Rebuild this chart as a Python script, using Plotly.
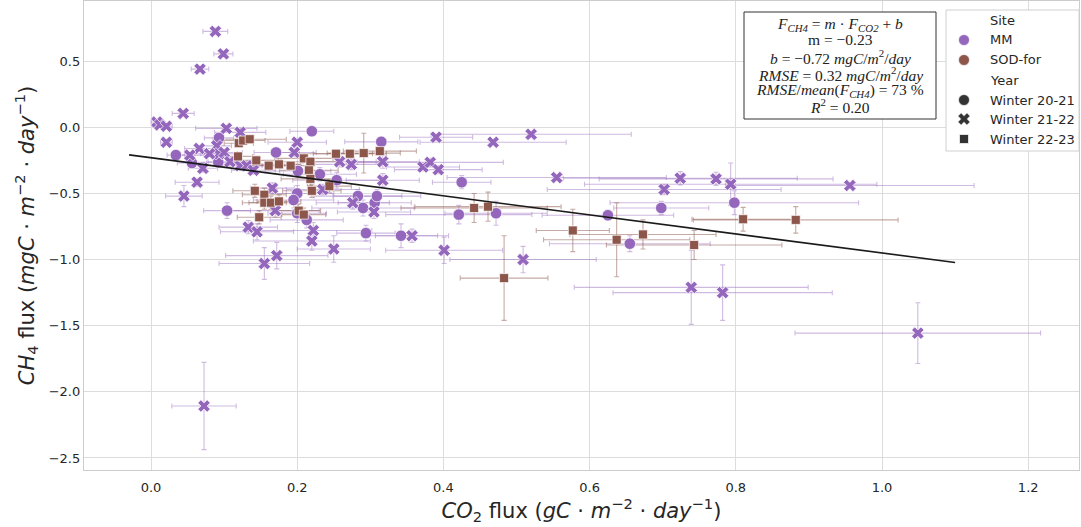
import plotly.graph_objects as go

# ---- MM site, winter 20-21 (circles) ----
mm20_x = [0.034, 0.220, 0.315, 0.171, 0.093, 0.092, 0.056, 0.104, 0.201, 0.231,
          0.254, 0.200, 0.195, 0.200, 0.213, 0.283, 0.290, 0.306, 0.309, 0.294,
          0.342, 0.425, 0.421, 0.472, 0.625, 0.655, 0.698, 0.798]
mm20_y = [-0.21, -0.03, -0.11, -0.19, -0.08, -0.265, -0.27, -0.63, -0.33, -0.355,
          -0.40, -0.50, -0.55, -0.65, -0.70, -0.52, -0.61, -0.57, -0.52, -0.80,
          -0.82, -0.415, -0.66, -0.65, -0.665, -0.88, -0.61, -0.57]
mm20_xerr = [0.012, 0.030, 0.050, 0.030, 0.020, 0.030, 0.020, 0.032, 0.045, 0.050,
             0.060, 0.050, 0.055, 0.040, 0.050, 0.060, 0.070, 0.050, 0.060, 0.040,
             0.050, 0.040, 0.100, 0.070, 0.090, 0.110, 0.065, 0.170]
mm20_yerr = [0.02, 0.02, 0.03, 0.02, 0.03, 0.03, 0.03, 0.06, 0.05, 0.05,
             0.06, 0.06, 0.06, 0.07, 0.06, 0.05, 0.06, 0.05, 0.05, 0.06,
             0.09, 0.05, 0.07, 0.09, 0.04, 0.06, 0.05, 0.09]

# ---- MM site, winter 21-22 (crosses) ----
mm21_x = [0.088, 0.099, 0.067, 0.044, 0.008, 0.012, 0.021, 0.021, 0.103, 0.122,
          0.200, 0.196, 0.066, 0.090, 0.093, 0.053, 0.080, 0.100, 0.108, 0.071,
          0.063, 0.045, 0.122, 0.131, 0.140, 0.166, 0.170, 0.133, 0.145, 0.155,
          0.172, 0.222, 0.220, 0.250, 0.235, 0.258, 0.274, 0.317, 0.317, 0.357,
          0.390, 0.372, 0.382, 0.393, 0.520, 0.468, 0.555, 0.702, 0.724, 0.773,
          0.793, 0.956, 0.401, 0.509, 0.739, 0.782, 1.049, 0.0725, 0.276, 0.305]
mm21_y = [0.725, 0.555, 0.440, 0.105, 0.040, 0.018, 0.008, -0.113, -0.008, -0.038,
          -0.113, -0.190, -0.160, -0.140, -0.200, -0.210, -0.200, -0.190, -0.260, -0.310,
          -0.415, -0.520, -0.290, -0.290, -0.325, -0.460, -0.630, -0.755, -0.790, -1.030,
          -0.970, -0.780, -0.860, -0.920, -0.470, -0.260, -0.280, -0.260, -0.400, -0.820,
          -0.075, -0.300, -0.265, -0.320, -0.053, -0.113, -0.380, -0.470, -0.385, -0.390,
          -0.430, -0.440, -0.930, -1.000, -1.210, -1.250, -1.556, -2.107, -0.570, -0.640]
mm21_xerr = [0.017, 0.013, 0.012, 0.015, 0.008, 0.008, 0.008, 0.008, 0.042, 0.035,
             0.040, 0.030, 0.020, 0.020, 0.025, 0.020, 0.020, 0.025, 0.030, 0.020,
             0.030, 0.025, 0.030, 0.030, 0.030, 0.030, 0.060, 0.040, 0.050, 0.062,
             0.070, 0.080, 0.080, 0.050, 0.050, 0.050, 0.050, 0.050, 0.050, 0.050,
             0.050, 0.050, 0.100, 0.060, 0.137, 0.100, 0.150, 0.160, 0.160, 0.160,
             0.200, 0.170, 0.080, 0.100, 0.160, 0.150, 0.168, 0.044, 0.050, 0.050]
mm21_yerr = [0.025, 0.010, 0.020, 0.010, 0.010, 0.010, 0.010, 0.015, 0.020, 0.030,
             0.030, 0.030, 0.020, 0.020, 0.020, 0.020, 0.020, 0.020, 0.030, 0.030,
             0.030, 0.080, 0.030, 0.030, 0.030, 0.040, 0.050, 0.050, 0.060, 0.120,
             0.100, 0.060, 0.070, 0.100, 0.040, 0.040, 0.040, 0.050, 0.050, 0.050,
             0.020, 0.030, 0.030, 0.030, 0.020, 0.020, 0.020, 0.040, 0.050, 0.050,
             0.160, 0.020, 0.100, 0.100, 0.280, 0.210, 0.230, 0.330, 0.050, 0.050]

# ---- SOD-for site, winter 22-23 (squares) ----
sod22_x = [0.120, 0.126, 0.135, 0.119, 0.144, 0.161, 0.175, 0.191, 0.209, 0.218,
           0.253, 0.272, 0.291, 0.313, 0.216, 0.218, 0.220, 0.244, 0.142, 0.155,
           0.155, 0.164, 0.175, 0.148, 0.202, 0.209, 0.442, 0.461, 0.577, 0.637,
           0.673, 0.743, 0.810, 0.882, 0.483]
sod22_y = [-0.120, -0.100, -0.090, -0.220, -0.250, -0.290, -0.280, -0.290, -0.235, -0.260,
           -0.200, -0.200, -0.195, -0.180, -0.325, -0.390, -0.480, -0.445, -0.480, -0.510,
           -0.570, -0.570, -0.560, -0.680, -0.630, -0.660, -0.610, -0.600, -0.780, -0.850,
           -0.810, -0.890, -0.695, -0.700, -1.140]
sod22_xerr = [0.020, 0.030, 0.050, 0.020, 0.030, 0.030, 0.030, 0.030, 0.040, 0.040,
              0.050, 0.050, 0.050, 0.050, 0.040, 0.040, 0.040, 0.030, 0.030, 0.030,
              0.030, 0.030, 0.030, 0.030, 0.030, 0.030, 0.100, 0.100, 0.050, 0.100,
              0.100, 0.120, 0.070, 0.140, 0.060]
sod22_yerr = [0.02, 0.02, 0.02, 0.03, 0.03, 0.03, 0.03, 0.03, 0.03, 0.03,
              0.03, 0.03, 0.15, 0.08, 0.04, 0.05, 0.05, 0.05, 0.05, 0.05,
              0.05, 0.05, 0.05, 0.05, 0.05, 0.05, 0.11, 0.11, 0.16, 0.28,
              0.11, 0.11, 0.09, 0.10, 0.32]

# ---- linear fit and statistics ----
fit_coef = [-0.72, -0.23]          # np.polyfit order: [slope, intercept]
fit_x = [-0.03, 1.10]
rmse = 0.32
rmse_pct = 73
r2 = 0.20

site_names = ["MM", "SOD-for"]
year_names = ["Winter 20-21", "Winter 21-22", "Winter 22-23"]

PURPLE = "#9467bd"
BROWN = "#8c564b"
PURPLE_ERR = "rgba(148,103,189,0.45)"
BROWN_ERR = "rgba(140,86,75,0.5)"
DARK = "#333333"
TEXT = "#262626"

W, H = 1081, 527
ML, MR, MT, MB = 84, 2, 1, 57
PW, PH = W - ML - MR, H - MT - MB


def px(xp):
    return (xp - ML) / PW


def py(yp):
    return (H - MB - yp) / PH


fig = go.Figure()

groups = [
    (mm20_x, mm20_y, mm20_xerr, mm20_yerr, PURPLE, PURPLE_ERR, "circle", 11.5),
    (mm21_x, mm21_y, mm21_xerr, mm21_yerr, PURPLE, PURPLE_ERR, "x", 11),
    (sod22_x, sod22_y, sod22_xerr, sod22_yerr, BROWN, BROWN_ERR, "square", 9),
]

# error bars first, so every marker sits on top of them
for gx, gy, ex, ey, col, ecol, sym, sz in groups:
    fig.add_trace(go.Scatter(
        x=gx, y=gy, mode="markers",
        marker=dict(size=1, opacity=0),
        error_x=dict(type="data", array=ex, color=ecol, thickness=1.1, width=2.5),
        error_y=dict(type="data", array=ey, color=ecol, thickness=1.1, width=2.5),
        showlegend=False, hoverinfo="skip",
    ))

for gx, gy, ex, ey, col, ecol, sym, sz in groups:
    fig.add_trace(go.Scatter(
        x=gx, y=gy, mode="markers",
        marker=dict(symbol=sym, size=sz, color=col,
                    line=dict(color="white", width=0.7)),
        showlegend=False,
    ))

# regression line
fit_y = [fit_coef[0] * v + fit_coef[1] for v in fit_x]
fig.add_trace(go.Scatter(
    x=fit_x, y=fit_y, mode="lines",
    line=dict(color="#1a1a1a", width=1.6), showlegend=False,
))

shapes = []
annotations = []

# statistics box
shapes.append(dict(type="rect", xref="paper", yref="paper",
                   x0=px(744), x1=px(936), y0=py(119), y1=py(12),
                   line=dict(color="#333333", width=1), fillcolor="white",
                   layer="above"))
box_lines = [
    "<i>F</i><sub><i>CH4</i></sub> = <i>m</i> · <i>F</i><sub><i>CO2</i></sub> + <i>b</i>",
    f"m = {fit_coef[1]:.2f}".replace("-", "\u2212"),
    f"<i>b</i> = {fit_coef[0]:.2f}".replace("-", "\u2212")
    + " <i>mgC</i>/<i>m</i><sup>2</sup>/<i>day</i>",
    f"<i>RMSE</i> = {rmse:.2f} <i>mgC</i>/<i>m</i><sup>2</sup>/<i>day</i>",
    f"<i>RMSE</i>/<i>mean</i>(<i>F</i><sub><i>CH4</i></sub>) = {rmse_pct} %",
    f"<i>R</i><sup>2</sup> = {r2:.2f}",
]
box_y = [24, 40, 57, 74, 91, 106]
for t, yy in zip(box_lines, box_y):
    annotations.append(dict(
        text=t, xref="paper", yref="paper", x=px(840), y=py(yy),
        xanchor="center", yanchor="middle", showarrow=False,
        font=dict(family="Liberation Serif", size=15.5, color="#222222"),
    ))

# legend frame
shapes.append(dict(type="rect", xref="paper", yref="paper",
                   x0=px(946), x1=px(1079), y0=py(151), y1=py(10),
                   line=dict(color="#d0d0d0", width=1), fillcolor="white",
                   layer="above"))

leg_rows = [
    ("Site", None, None),
    (site_names[0], "circle", PURPLE),
    (site_names[1], "circle", BROWN),
    ("Year", None, None),
    (year_names[0], "circle", DARK),
    (year_names[1], "x", DARK),
    (year_names[2], "square", DARK),
]
leg_y = [21, 40, 60, 80, 100, 119, 139]
mx = 964
for (label, sym, col), yy in zip(leg_rows, leg_y):
    annotations.append(dict(
        text=label, xref="paper", yref="paper", x=px(988), y=py(yy),
        xanchor="left", yanchor="middle", showarrow=False,
        font=dict(family="DejaVu Sans", size=13, color=TEXT),
    ))
    if sym == "circle":
        r = 5.5
        shapes.append(dict(type="circle", xref="paper", yref="paper",
                           xsizemode="pixel", ysizemode="pixel",
                           xanchor=px(mx), yanchor=py(yy),
                           x0=-r, x1=r, y0=-r, y1=r,
                           fillcolor=col, line=dict(color="white", width=0.7),
                           layer="above"))
    elif sym == "square":
        r = 4.5
        shapes.append(dict(type="rect", xref="paper", yref="paper",
                           xsizemode="pixel", ysizemode="pixel",
                           xanchor=px(mx), yanchor=py(yy),
                           x0=-r, x1=r, y0=-r, y1=r,
                           fillcolor=col, line=dict(color="white", width=0.7),
                           layer="above"))
    elif sym == "x":
        a, b = 5.5, 2.6
        path = (f"M{-a},{-a + b} L{-a + b},{-a} L0,{-b} L{a - b},{-a} L{a},{-a + b} "
                f"L{b},0 L{a},{a - b} L{a - b},{a} L0,{b} L{-a + b},{a} "
                f"L{-a},{a - b} L{-b},0 Z")
        shapes.append(dict(type="path", xref="paper", yref="paper",
                           xsizemode="pixel", ysizemode="pixel",
                           xanchor=px(mx), yanchor=py(yy), path=path,
                           fillcolor=col, line=dict(color=col, width=0.5),
                           layer="above"))

axis_common = dict(
    showgrid=True, gridcolor="#dcdcdc", gridwidth=1.3,
    showline=True, linecolor="#cccccc", linewidth=1.3, mirror=True,
    zeroline=False, ticks="",
    tickfont=dict(family="DejaVu Sans", size=13, color=TEXT),
)

fig.update_layout(
    width=W, height=H,
    margin=dict(l=ML, r=MR, t=MT, b=MB),
    paper_bgcolor="white", plot_bgcolor="white",
    font=dict(family="DejaVu Sans", color=TEXT),
    xaxis=dict(range=[-0.0917, 1.2695], dtick=0.2, tick0=0, tickformat=".1f",
               ticklabelstandoff=5,
               title=dict(text="<i>CO</i><sub>2</sub> flux (<i>gC</i> · <i>m</i><sup>\u22122</sup> · <i>day</i><sup>\u22121</sup>)",
                          font=dict(family="DejaVu Sans", size=21, color=TEXT),
                          standoff=6),
               **axis_common),
    yaxis=dict(range=[-2.591, 0.955], dtick=0.5, tick0=0, tickformat=".1f",
               title=dict(text="<i>CH</i><sub>4</sub> flux (<i>mgC</i> · <i>m</i><sup>\u22122</sup> · <i>day</i><sup>\u22121</sup>)",
                          font=dict(family="DejaVu Sans", size=21, color=TEXT),
                          standoff=8),
               **axis_common),
    shapes=shapes,
    annotations=annotations,
    showlegend=False,
)

fig.write_html("out.html")
